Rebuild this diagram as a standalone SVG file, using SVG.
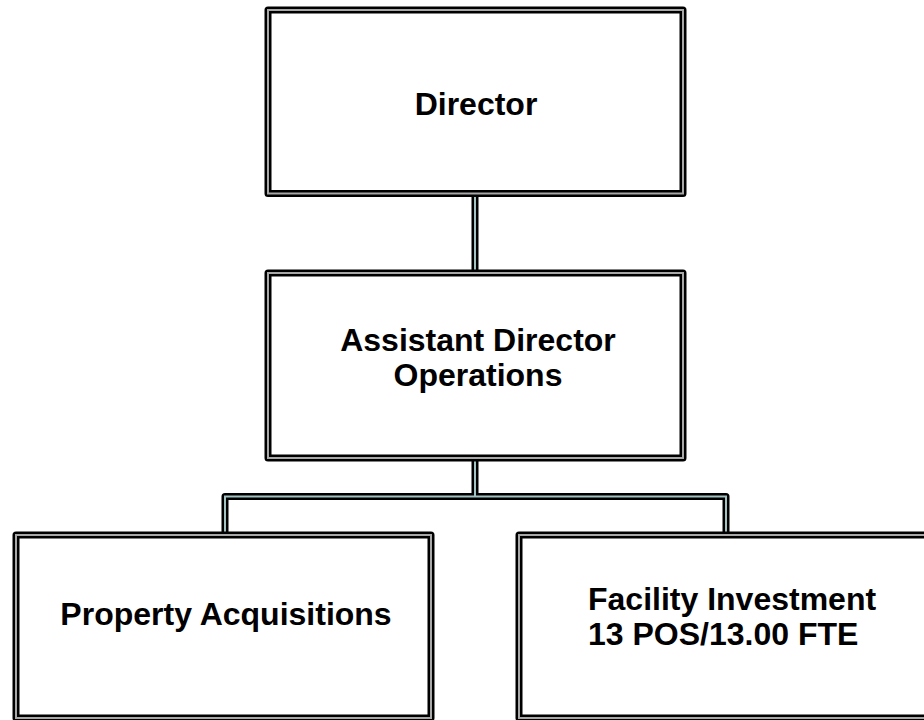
<svg xmlns="http://www.w3.org/2000/svg" width="924" height="720" viewBox="0 0 924 720">
  <style>
    .outer { fill: #ffffff; stroke: #000000; stroke-width: 7; stroke-linejoin: round; stroke-linecap: round; }
    .inner { fill: none; stroke: #a8a8a8; stroke-width: 2; stroke-linejoin: miter; }
    .wire-outer { fill: none; stroke: #000000; stroke-width: 7; stroke-linejoin: round; stroke-linecap: round; }
    .wire-inner { fill: none; stroke: #a3c2c2; stroke-width: 2; stroke-linecap: butt; }
    .label { font-family: "Liberation Sans", Arial, sans-serif; font-weight: bold; font-size: 32px; fill: #000000; }
  </style>

  <g id="connectors">
    <path class="wire-outer" d="M475 193.5 V273 M475 458 V496.5 M225 535 V496.5 H726 V535"/>
    <path class="wire-inner" d="M475 193.5 V273 M475 458 V496.5 M225 535 V496.5 H726 V535"/>
  </g>

  <g id="director">
    <rect class="outer" x="268" y="10" width="415" height="183.5"/>
    <rect class="inner" x="268" y="10" width="415" height="183.5"/>
    <text class="label" x="476" y="115" text-anchor="middle">Director</text>
  </g>

  <g id="assistant-director">
    <rect class="outer" x="268" y="273" width="415" height="185"/>
    <rect class="inner" x="268" y="273" width="415" height="185"/>
    <text class="label" x="478" y="351" text-anchor="middle">Assistant Director</text>
    <text class="label" x="478" y="386" text-anchor="middle">Operations</text>
  </g>

  <g id="property-acquisitions">
    <rect class="outer" x="16" y="535" width="415" height="183"/>
    <rect class="inner" x="16" y="535" width="415" height="183"/>
    <text class="label" x="226" y="625" text-anchor="middle">Property Acquisitions</text>
  </g>

  <g id="facility-investment">
    <rect class="outer" x="519" y="535" width="420" height="183"/>
    <rect class="inner" x="519" y="535" width="420" height="183"/>
    <text class="label" x="588" y="610">Facility Investment</text>
    <text class="label" x="588" y="645">13 POS/13.00 FTE</text>
  </g>
</svg>
